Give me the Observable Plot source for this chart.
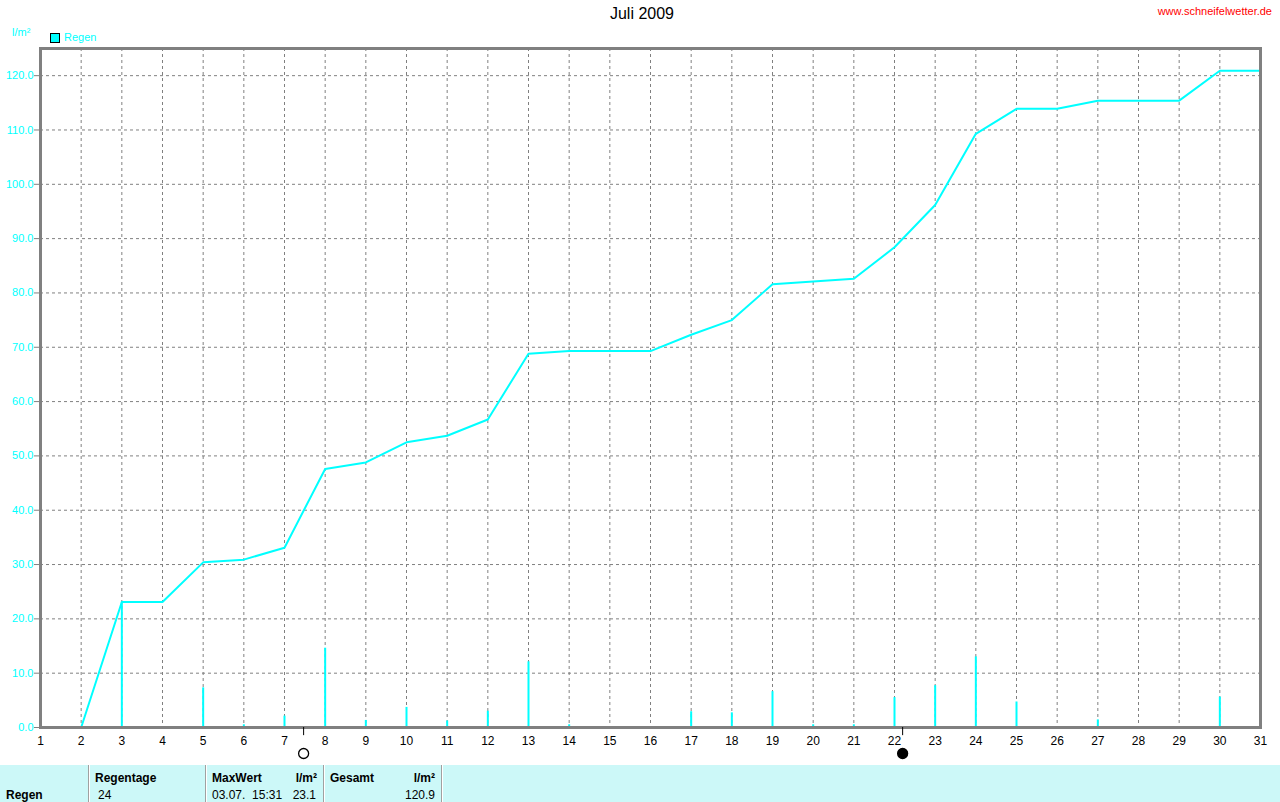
<!DOCTYPE html>
<html>
<head>
<meta charset="utf-8">
<script src="https://cdn.jsdelivr.net/npm/d3@7"></script>
<script src="https://cdn.jsdelivr.net/npm/@observablehq/plot@0.6"></script>
<style>
  html, body { margin: 0; padding: 0; background: #fff; }
  body { width: 1280px; height: 802px; position: relative; overflow: hidden; font-family: "Liberation Sans", Arial, sans-serif; }
  .abs { position: absolute; white-space: nowrap; }
  #chart { position: absolute; left: 0; top: 0; }
  #table { position: absolute; left: 0; top: 765px; width: 1280px; height: 37px; background: #ccf8f8; }
  .sep { position: absolute; top: 0; width: 1px; height: 37px; background: #a0a0a0; border-right: 1px solid #ffffff; }
  .cell { position: absolute; font-size: 12px; color: #000; white-space: pre; }
  .b { font-weight: bold; }
</style>
</head>
<body>
<div id="chart"></div>
<div class="abs" style="left:0;width:1284px;top:5px;text-align:center;font-size:16px;color:#000;">Juli 2009</div>
<div class="abs" style="right:8px;top:5px;font-size:11px;color:#ff0000;">www.schneifelwetter.de</div>
<div class="abs" style="left:12px;top:26px;font-size:11px;color:#00ffff;">l/m²</div>
<div class="abs" style="left:50px;top:33px;width:8px;height:8px;background:#00ffff;border:1px solid #000;"></div>
<div class="abs" style="left:64px;top:31px;font-size:11px;color:#00ffff;">Regen</div>
<div id="table"></div>
<script>
// ---- data ----
const days = [1,2,3,4,5,6,7,8,9,10,11,12,13,14,15,16,17,18,19,20,21,22,23,24,25,26,27,28,29,30,31];
// cumulative rain (l/m²) per day
const regenSumme = [0,0,23.1,23.1,30.4,30.9,33.1,47.6,48.8,52.5,53.7,56.7,68.8,69.3,69.3,69.3,72.3,75.0,81.6,82.1,82.6,88.4,96.2,109.3,113.9,113.9,115.4,115.4,115.4,120.9,120.9];
// daily rain (l/m²)
const regenTag = [0,0,23.1,0,7.3,0.5,2.1,14.6,1.3,3.7,1.2,3.0,12.1,0.5,0,0,2.9,2.7,6.6,0.5,0.5,5.5,7.7,13.0,4.7,0,1.4,0,0,5.6,0];
const yTicks = [0,10,20,30,40,50,60,70,80,90,100,110,120];
const moonDays = [7.47, 22.2];
const moonPhase = ["Vollmond", "Neumond"];
const tableCells = {
  row: "Regen",
  regentage: "24",
  maxDatum: "03.07.  15:31",
  maxWert: "23.1",
  gesamt: "120.9"
};

const rows = days.map((d, i) => ({day: d, sum: regenSumme[i], daily: regenTag[i]}));
const moons = moonDays.map((d, i) => ({day: d, phase: moonPhase[i]}));

const CYAN = "#00ffff";
const GRAY = "#808080";

const plot = Plot.plot({
  width: 1280,
  height: 765,
  marginLeft: 40,
  marginRight: 20,
  marginTop: 48,
  marginBottom: 38,
  style: {fontFamily: "'Liberation Sans', Arial, sans-serif", background: "transparent", overflow: "visible"},
  x: {domain: [1, 31], axis: null, label: null},
  y: {domain: [0, 125], axis: null, label: null},
  marks: [
    Plot.ruleY(yTicks.filter(t => t > 0), {stroke: GRAY, strokeDasharray: "3,3", strokeWidth: 1}),
    Plot.ruleX(days.filter(d => d > 1 && d < 31), {stroke: GRAY, strokeDasharray: "3,3", strokeWidth: 1}),
    Plot.ruleX(rows.filter(r => r.daily > 0), {x: "day", y1: 0, y2: "daily", stroke: CYAN, strokeWidth: 2}),
    Plot.line(rows, {x: "day", y: "sum", stroke: CYAN, strokeWidth: 2}),
    Plot.frame({stroke: GRAY, strokeWidth: 3}),
    Plot.axisY(yTicks, {tickSize: 6, tickPadding: 1, stroke: GRAY, fill: CYAN, fontSize: 11, label: null, tickFormat: d => d.toFixed(1)}),
    Plot.axisX(days, {tickSize: 0, tickPadding: 9, fill: "#000", fontSize: 12, label: null, tickFormat: d => String(d)}),
    Plot.ruleX(moons, {x: "day", y1: 0, y2: -1.5, stroke: "#000", strokeWidth: 1}),
    Plot.dot(moons, {x: "day", y: 0, dy: 26, r: 5, stroke: "#000", strokeWidth: 1.3, fill: d => d.phase === "Neumond" ? "#000" : "#fff"})
  ]
});
document.getElementById("chart").appendChild(plot);

// bottom info table
const table = document.getElementById("table");
[88, 205, 323, 441].forEach(x => {
  const s = document.createElement("div");
  s.className = "sep";
  s.style.left = x + "px";
  table.appendChild(s);
});
function cell(text, left, top, bold, rightEdge) {
  const c = document.createElement("div");
  c.className = "cell" + (bold ? " b" : "");
  c.textContent = text;
  c.style.top = top + "px";
  if (rightEdge != null) { c.style.right = (1280 - rightEdge) + "px"; }
  else { c.style.left = left + "px"; }
  table.appendChild(c);
}
cell(tableCells.row, 6, 23, true);
cell("Regentage", 95, 6, true);
cell(tableCells.regentage, 98, 23, false);
cell("MaxWert", 212, 6, true);
cell("l/m²", null, 6, true, 317);
cell(tableCells.maxDatum, 212, 23, false);
cell(tableCells.maxWert, null, 23, false, 316);
cell("Gesamt", 330, 6, true);
cell("l/m²", null, 6, true, 435);
cell(tableCells.gesamt, null, 23, false, 435);
</script>
</body>
</html>
